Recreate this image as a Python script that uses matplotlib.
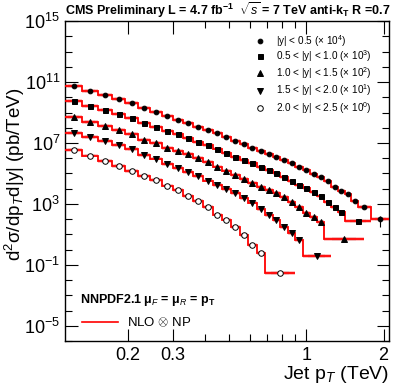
import numpy as np
import matplotlib.pyplot as plt
from matplotlib.ticker import FixedLocator, FixedFormatter, NullFormatter

plt.rcParams['font.family'] = ['Liberation Sans', 'DejaVu Sans']
plt.rcParams['mathtext.fontset'] = 'custom'
plt.rcParams['mathtext.rm'] = 'Liberation Sans'
plt.rcParams['mathtext.it'] = 'Liberation Sans:italic'
plt.rcParams['mathtext.bf'] = 'Liberation Sans:bold'

# bin edges in GeV (CMS inclusive jet binning)
edges_gev = [114, 133, 153, 174, 196, 220, 245, 272, 300, 330, 362, 395, 430, 468,
             507, 548, 592, 638, 686, 737, 790, 846, 905, 967, 1032, 1101, 1172,
             1248, 1327, 1410, 1497, 1588, 1684, 1784, 1890, 2000, 2116]

# rapidity bins: label, scale, last common edge, merged tail edges
labels = [r'|y| < 0.5 ($\times$ 10$^{4}$)',
          r'0.5 < |y| < 1.0 ($\times$ 10$^{3}$)',
          r'1.0 < |y| < 1.5 ($\times$ 10$^{2}$)',
          r'1.5 < |y| < 2.0 ($\times$ 10$^{1}$)',
          r'2.0 < |y| < 2.5 ($\times$ 10$^{0}$)']
scales = [1e4, 1e3, 1e2, 1e1, 1e0]
cut_edges = [1588, 1410, 1172, 967, 686]
tail_edges = [[1784, 2116], [1784], [1684], [1248], [905]]

# cross sections in pb/TeV (unscaled)
xs_y0 = [5.4e6, 2.55e6, 1.39e6, 7.6e5, 4.16e5, 2.11e5, 1.07e5, 5.84e4, 3.44e4, 2.03e4,
         1.11e4, 7.05e3, 4.48e3, 2.44e3, 1.34e3, 849, 500, 295, 187, 119, 75.7, 48.1,
         26.3, 16.7, 9.14, 5.81, 3.17, 1.28, 0.70, 0.445, 0.155, 0.0624, 0.0102]
xs_y1 = [5.64e6, 2.65e6, 1.45e6, 7.9e5, 4.32e5, 2.03e5, 1.11e5, 6.05e4, 3.85e4, 2.10e4,
         1.15e4, 7.31e3, 4.31e3, 2.35e3, 1.19e3, 757, 481, 263, 167, 106, 58.1, 31.7,
         17.3, 11.0, 6.03, 3.29, 1.33, 0.624, 0.293, 0.0753]
xs_y2 = [5.02e6, 2.36e6, 1.29e6, 7.05e5, 3.85e5, 1.67e5, 9.9e4, 4.65e4, 2.95e4, 1.87e4,
         1.02e4, 5.6e3, 2.84e3, 1.55e3, 785, 430, 234, 128, 81.5, 51.8, 28.3, 13.3,
         6.24, 2.52, 1.38, 0.647, 0.0497]
xs_y3 = [4.48e6, 2.44e6, 1.34e6, 7.31e5, 3.99e5, 1.61e5, 9.5e4, 4.14e4, 2.26e4, 1.24e4,
         6.75e3, 3.42e3, 1.73e3, 946, 518, 243, 123, 46.1, 18.6, 8.75, 3.04, 1.23,
         0.427, 0.038]
xs_y4 = [3.70e6, 1.50e6, 6.52e5, 3.06e5, 1.44e5, 6.75e4, 3.69e4, 1.61e4, 8.15e3, 3.29e3,
         1.55e3, 624, 201, 94.4, 30.4, 9.08, 2.0, 0.598, 0.0292]
xs_all = [xs_y0, xs_y1, xs_y2, xs_y3, xs_y4]

# relative stat. error of the last (merged) point
last_err = [0.7, 0.3, 0.3, 0.3, 0.3]

markers = ['o', 's', '^', 'v', 'o']
msizes = [3.4, 3.6, 3.8, 3.8, 4.0]
filled = [True, True, True, True, False]

fig = plt.figure(figsize=(4.09, 3.92), dpi=100)
ax = fig.add_axes([0.159, 0.130, 0.792, 0.816])
ax.set_xscale('log')
ax.set_yscale('log')

for i in range(5):
    edges = np.array([e for e in edges_gev if e <= cut_edges[i]] + tail_edges[i]) / 1000.0
    vals = np.array(xs_all[i]) * scales[i]
    lo, hi = edges[:-1], edges[1:]
    xc = np.sqrt(lo * hi)

    # theory band and NLO x NP line
    ax.stairs(vals * 1.3, edges, baseline=vals * 0.75, fill=True,
              color='#ffb3b3', alpha=0.8, lw=0, zorder=2)
    ax.stairs(vals, edges, baseline=None, color='red', lw=1.3, zorder=3)

    # systematic boxes
    bl = lo * (hi / lo) ** 0.2
    br = lo * (hi / lo) ** 0.8
    ax.bar(bl, vals * 1.3 - vals * 0.77, width=br - bl, bottom=vals * 0.77,
           align='edge', color='#bdbdbd', lw=0, zorder=1)

    err = np.full(len(vals), 0.03)
    err[-1] = last_err[i]
    ax.errorbar(xc, vals, yerr=vals * err, fmt='none', ecolor='black',
                elinewidth=0.8, capsize=0, zorder=4)
    ax.plot(xc, vals, ls='none', marker=markers[i], ms=msizes[i],
            mfc='black' if filled[i] else 'white', mec='black', mew=0.7, zorder=5)

ax.set_xlim(0.114, 2.1)
ax.set_ylim(1e-6, 1e15)

ax.xaxis.set_major_locator(FixedLocator([0.2, 0.3, 1, 2]))
ax.xaxis.set_major_formatter(FixedFormatter(['0.2', '0.3', '1', '2']))
ax.xaxis.set_minor_locator(FixedLocator([0.4, 0.5, 0.6, 0.7, 0.8, 0.9]))
ax.xaxis.set_minor_formatter(NullFormatter())

ymaj = [1e-5, 1e-1, 1e3, 1e7, 1e11, 1e15]
ax.yaxis.set_major_locator(FixedLocator(ymaj))
ax.yaxis.set_major_formatter(FixedFormatter([r'$10^{-5}$', r'$10^{-1}$', r'$10^{3}$',
                                             r'$10^{7}$', r'$10^{11}$', r'$10^{15}$']))
ax.yaxis.set_minor_locator(FixedLocator([10.0 ** k for k in range(-6, 16)]))
ax.yaxis.set_minor_formatter(NullFormatter())

ax.tick_params(which='both', direction='in', top=True, right=True, width=0.8)
ax.tick_params(which='major', length=9, labelsize=13)
ax.tick_params(which='minor', length=5)
ax.tick_params(axis='x', which='major', pad=4)
for s in ax.spines.values():
    s.set_linewidth(1.0)

ax.set_ylabel(r'd$^{2}$σ/dp$_{T}$d|y| (pb/TeV)', fontsize=13.5)
ax.yaxis.set_label_coords(-0.118, 0.52)
ax.set_xlabel(r'Jet p$_{T}$ (TeV)', fontsize=14, loc='right', labelpad=0)

fig.text(0.159, 0.975, r'CMS Preliminary L = 4.7 fb$^{\mathbf{-1}}$  $\sqrt{s}$ = 7 TeV anti-k$_{\mathbf{T}}$ R =0.7',
         fontsize=9, fontweight='bold', ha='left', va='center')

# data legend (upper right)
leg_y = [0.938, 0.891, 0.837, 0.783, 0.727]
for i in range(5):
    ax.plot([0.602], [leg_y[i]], transform=ax.transAxes, ls='none',
            marker=markers[i], ms=msizes[i],
            mfc='black' if filled[i] else 'white', mec='black', mew=0.7, clip_on=False)
    ax.text(0.651, leg_y[i], labels[i], transform=ax.transAxes, fontsize=7.2,
            ha='left', va='center')

# theory legend (lower left)
ax.text(0.046, 0.128, r'NNPDF2.1 μ$_{F}$ = μ$_{R}$ = p$_{\mathbf{T}}$', transform=ax.transAxes,
        fontsize=9, fontweight='bold', ha='left', va='center')
ax.plot([0.052, 0.164], [0.059, 0.059], transform=ax.transAxes, color='red', lw=1.2)
ax.text(0.19, 0.059, r'NLO $\otimes$ NP', transform=ax.transAxes, fontsize=9.5,
        ha='left', va='center')

fig.savefig('out.png', dpi=100)
